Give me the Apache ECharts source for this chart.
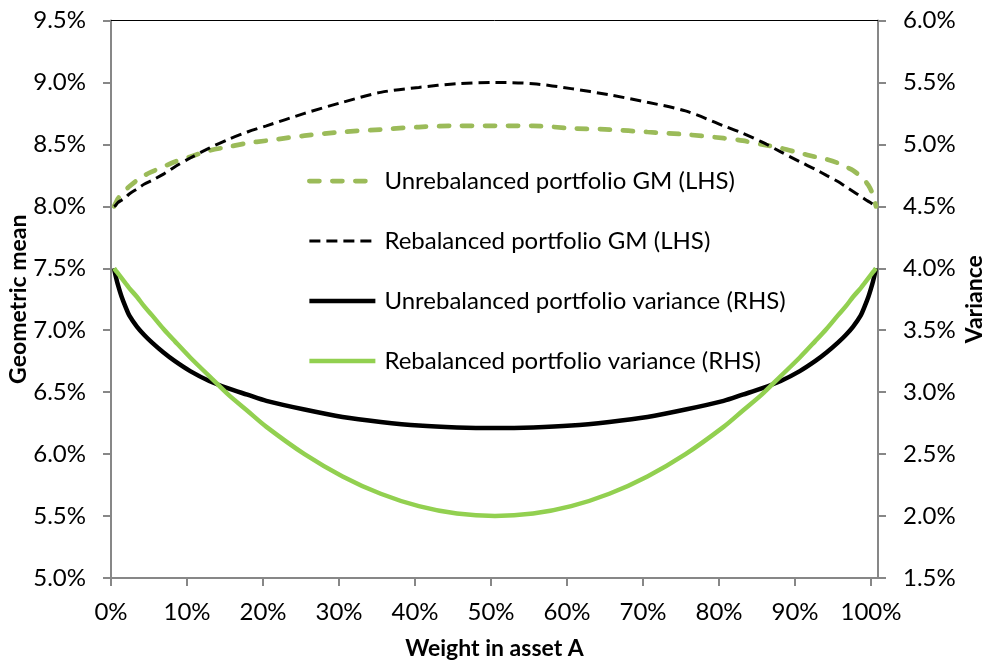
<!DOCTYPE html>
<html>
<head>
<meta charset="utf-8">
<script src="https://cdn.jsdelivr.net/npm/echarts@6/dist/echarts.min.js"></script>
<style>
html,body{margin:0;padding:0;background:#fff;}
#c{width:987px;height:663px;}
</style>
</head>
<body>
<div id="c"></div>
<script>
// Weight in asset A (%)
const weights = [0, 0.25, 0.5, 1, 1.5, 2, 3, 4, 5, 6.5, 8, 10, 12.5, 15, 17.5, 20,
                 25, 30, 35, 40, 45, 50, 55, 60, 65, 70, 75,
                 80, 82.5, 85, 87.5, 90, 92, 93.5, 95, 96, 97, 98, 98.5, 99, 99.5, 99.75, 100];
// Geometric means (%), left axis
const unrebGM = [8.00, 8.03, 8.06, 8.10, 8.13, 8.16, 8.21, 8.25, 8.28, 8.32, 8.36, 8.40, 8.45, 8.48, 8.51, 8.53,
                 8.57, 8.60, 8.62, 8.64, 8.65, 8.65, 8.65, 8.63, 8.62, 8.60, 8.58,
                 8.55, 8.53, 8.50, 8.47, 8.43, 8.40, 8.38, 8.35, 8.32, 8.29, 8.24, 8.21, 8.17, 8.11, 8.06, 8.00];
const rebGM   = [8.00, 8.01, 8.03, 8.05, 8.07, 8.10, 8.14, 8.18, 8.21, 8.26, 8.32, 8.39, 8.47, 8.54, 8.60, 8.65,
                 8.75, 8.84, 8.92, 8.96, 8.99, 9.00, 8.99, 8.95, 8.90, 8.84, 8.77,
                 8.65, 8.59, 8.52, 8.44, 8.36, 8.30, 8.25, 8.20, 8.16, 8.12, 8.08, 8.06, 8.04, 8.02, 8.01, 8.00];
// Variances (%), right axis
const unrebVar = [4.00, 3.93, 3.87, 3.77, 3.69, 3.62, 3.53, 3.46, 3.40, 3.32, 3.25, 3.17, 3.09, 3.03, 2.98, 2.93,
                  2.86, 2.80, 2.76, 2.73, 2.715, 2.71, 2.715, 2.73, 2.76, 2.80, 2.86,
                  2.93, 2.98, 3.03, 3.09, 3.17, 3.25, 3.32, 3.40, 3.46, 3.53, 3.62, 3.69, 3.77, 3.87, 3.93, 4.00];
const rebVar   = [4.00, 3.98, 3.96, 3.92, 3.88, 3.84, 3.77, 3.69, 3.62, 3.51, 3.41, 3.28, 3.13, 2.98, 2.85, 2.72,
                  2.50, 2.32, 2.18, 2.08, 2.02, 2.00, 2.02, 2.08, 2.18, 2.32, 2.50,
                  2.72, 2.85, 2.98, 3.13, 3.28, 3.41, 3.51, 3.62, 3.69, 3.77, 3.84, 3.88, 3.92, 3.96, 3.98, 4.00];
// Tick values
const xTicks = [0, 10, 20, 30, 40, 50, 60, 70, 80, 90, 100];
const seriesNames = ['Unrebalanced portfolio GM (LHS)', 'Rebalanced portfolio GM (LHS)', 'Unrebalanced portfolio variance (RHS)', 'Rebalanced portfolio variance (RHS)'];

const pair = (ys) => weights.map((w, i) => [w, ys[i]]);
const FONT = 'Lato';
const axisGrey = '#878787';

const styles = [
  { color: '#9BBB59', width: 4.75, type: [10, 13], cap: 'round' },
  { color: '#000000', width: 3, type: [11, 6] },
  { color: '#000000', width: 4.5, type: 'solid' },
  { color: '#92D050', width: 4.5, type: 'solid' }
];

const chart = echarts.init(document.getElementById('c'));
chart.setOption({
  animation: false,
  textStyle: { fontFamily: FONT },
  grid: { left: 111, right: 109, top: 20.5, bottom: 85, containLabel: false, outerBoundsMode: 'none' },
  legend: {
    orient: 'vertical',
    left: 302, top: 163,
    itemWidth: 66, itemHeight: 14, itemGap: 34,
    itemStyle: { color: 'rgba(0,0,0,0)', borderWidth: 0, opacity: 0 },
    textStyle: { fontFamily: FONT, fontSize: 24, color: '#000', lineHeight: 26, padding: [0, 0, 0, 4] },
    data: seriesNames.map((n, i) => ({ name: n, lineStyle: Object.assign({}, styles[i]), itemStyle: { opacity: 0 } }))
  },
  xAxis: [
    {
      type: 'value', min: 0, max: 100.92, interval: 10,
      position: 'bottom',
      axisLine: { show: true, onZero: false, lineStyle: { color: axisGrey, width: 2 } },
      axisTick: { show: true, length: 8, lineStyle: { color: axisGrey, width: 2 }, customValues: xTicks },
      axisLabel: { customValues: xTicks, fontFamily: FONT, fontSize: 24, color: '#000', margin: 22, formatter: (v) => Math.round(v) + '%' },
      splitLine: { show: false },
      name: 'Weight in asset A', nameLocation: 'middle', nameGap: 59, nameMoveOverlap: false,
      nameTextStyle: { fontFamily: FONT, fontSize: 23, fontWeight: 'bold', color: '#000' }
    },
    {
      type: 'value', min: -0.3937, max: 100.262, show: false, position: 'bottom',
      axisLine: { onZero: false }
    },
    {
      type: 'value', min: 0, max: 100, position: 'top',
      axisLine: { show: true, onZero: false, lineStyle: { color: '#000', width: 1 } },
      axisTick: { show: false }, axisLabel: { show: false }, splitLine: { show: false }
    }
  ],
  yAxis: [
    {
      type: 'value', min: 5.0, max: 9.5, interval: 0.5, position: 'left',
      axisLine: { show: true, onZero: false, lineStyle: { color: axisGrey, width: 2 } },
      axisTick: { show: true, length: 8, lineStyle: { color: axisGrey, width: 2 } },
      axisLabel: { fontFamily: FONT, fontSize: 24, color: '#000', margin: 25, formatter: (v) => v.toFixed(1) + '%' },
      splitLine: { show: false },
      name: 'Geometric mean', nameLocation: 'middle', nameGap: 81, nameRotate: 90, nameMoveOverlap: false,
      nameTextStyle: { fontFamily: FONT, fontSize: 23, fontWeight: 'bold', color: '#000' }
    },
    {
      type: 'value', min: 1.5, max: 6.0, interval: 0.5, position: 'right',
      axisLine: { show: true, onZero: false, lineStyle: { color: axisGrey, width: 2 } },
      axisTick: { show: true, length: 8, lineStyle: { color: axisGrey, width: 2 } },
      axisLabel: { fontFamily: FONT, fontSize: 24, color: '#000', margin: 25, formatter: (v) => v.toFixed(1) + '%' },
      splitLine: { show: false },
      name: 'Variance', nameLocation: 'middle', nameGap: 85, nameRotate: 90, nameMoveOverlap: false,
      nameTextStyle: { fontFamily: FONT, fontSize: 23, fontWeight: 'bold', color: '#000' }
    }
  ],
  series: [
    { name: seriesNames[0], type: 'line', xAxisIndex: 1, yAxisIndex: 0, data: pair(unrebGM), showSymbol: false, symbol: 'none', smooth: 0.3, lineStyle: styles[0], itemStyle: { color: styles[0].color } },
    { name: seriesNames[1], type: 'line', xAxisIndex: 1, yAxisIndex: 0, data: pair(rebGM), showSymbol: false, symbol: 'none', smooth: 0.3, lineStyle: styles[1], itemStyle: { color: styles[1].color } },
    { name: seriesNames[2], type: 'line', xAxisIndex: 1, yAxisIndex: 1, data: pair(unrebVar), showSymbol: false, symbol: 'none', smooth: 0.3, lineStyle: styles[2], itemStyle: { color: styles[2].color } },
    { name: seriesNames[3], type: 'line', xAxisIndex: 1, yAxisIndex: 1, data: pair(rebVar), showSymbol: false, symbol: 'none', smooth: 0.3, lineStyle: styles[3], itemStyle: { color: styles[3].color } }
  ]
});
</script>
</body>
</html>
